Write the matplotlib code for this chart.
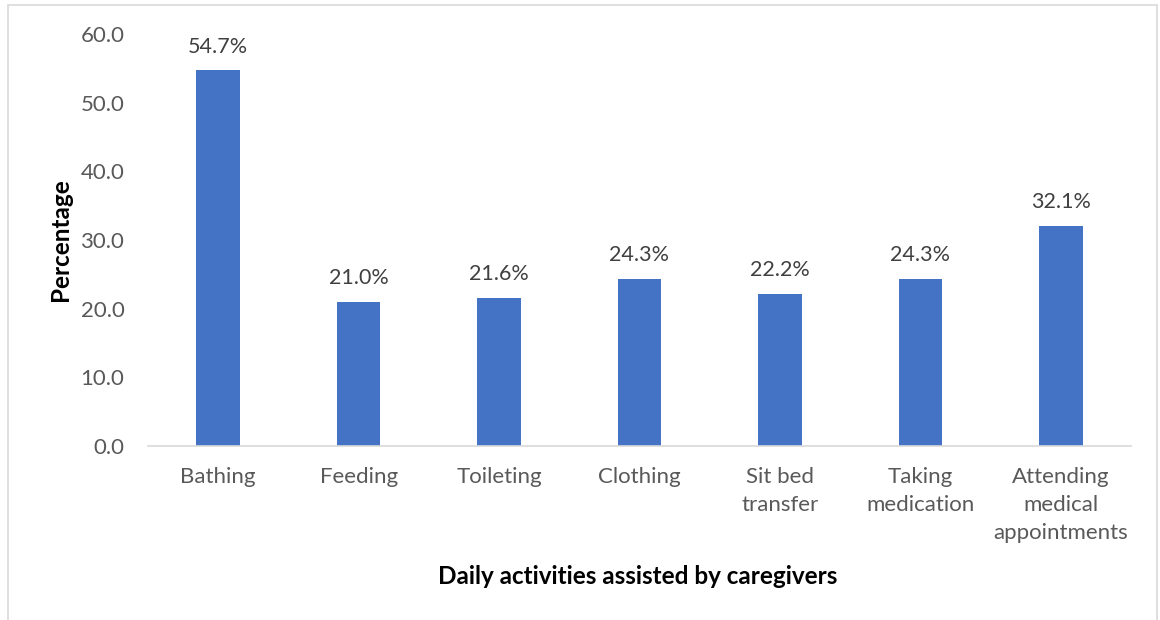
import matplotlib
matplotlib.use("Agg")
import matplotlib.pyplot as plt
from matplotlib.patches import Rectangle

plt.rcParams['font.family'] = ['Lato', 'DejaVu Sans']

activities = ['Bathing', 'Feeding', 'Toileting', 'Clothing', 'Sit bed\ntransfer',
              'Taking\nmedication', 'Attending\nmedical\nappointments']
percentages = [54.7, 21.0, 21.6, 24.3, 22.2, 24.3, 32.1]

fig = plt.figure(figsize=(11.6, 6.2), dpi=100)
ax = fig.add_axes([148 / 1160, 1 - 446 / 620, (1131 - 148) / 1160, (446 - 34) / 620])

# outer chart frame
fig.patches.append(Rectangle((8 / 1160, -0.05), (1157 - 8) / 1160, 1.05 - 5 / 620,
                             transform=fig.transFigure, fill=False,
                             edgecolor='#d9d9d9', linewidth=1.2))

x = range(len(activities))
bars = ax.bar(x, percentages, width=0.31, color='#4472C4')

for b, v in zip(bars, percentages):
    ax.text(b.get_x() + b.get_width() / 2, v + 2.0, f'{v:.1f}%',
            ha='center', va='bottom', fontsize=15.5, color='#404040')

ax.set_xlim(-0.5, len(activities) - 0.5)
ax.set_ylim(0, 60)
ax.set_yticks([0, 10, 20, 30, 40, 50, 60])
ax.set_yticklabels([f'{t:.1f}' for t in [0, 10, 20, 30, 40, 50, 60]])
ax.set_xticks(list(x))
ax.set_xticklabels(activities, linespacing=1.5)

ax.tick_params(axis='both', length=0, labelsize=16, labelcolor='#595959')
ax.tick_params(axis='y', pad=17)
ax.tick_params(axis='x', pad=15)
for s in ['top', 'right', 'left']:
    ax.spines[s].set_visible(False)
ax.spines['bottom'].set_color('#d9d9d9')
ax.spines['bottom'].set_linewidth(1.2)

fig.text(60 / 1160, 1 - 240 / 620, 'Percentage', rotation=90, ha='center', va='center',
         fontsize=17.5, fontweight='bold', color='black')
fig.text(638 / 1160, 1 - 577 / 620, 'Daily activities assisted by caregivers',
         ha='center', va='center', fontsize=17.5, fontweight='bold', color='black')

fig.savefig('out.png', dpi=100)
